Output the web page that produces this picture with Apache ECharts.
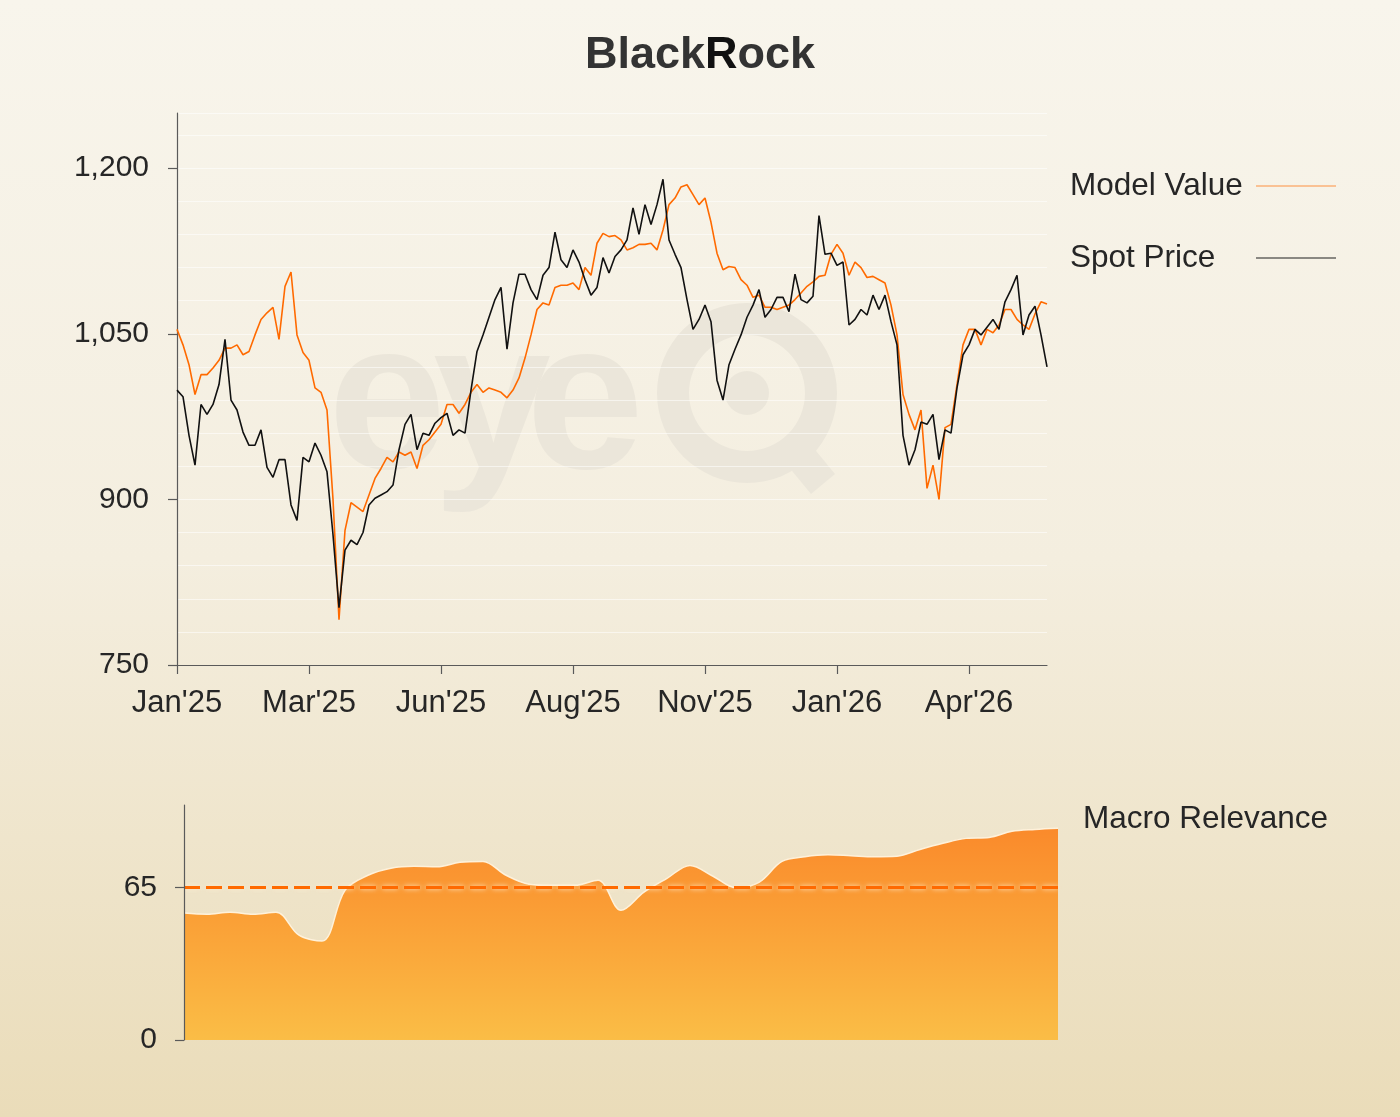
<!DOCTYPE html>
<html>
<head>
<meta charset="utf-8">
<script src="https://cdn.jsdelivr.net/npm/echarts@6/dist/echarts.min.js"></script>
<style>
  html, body { margin: 0; padding: 0; }
  body { background: linear-gradient(to bottom, #f8f5ec 0%, #f4eedf 50%, #eadcb9 100%); }
  #chart { width: 1400px; height: 1117px; }
</style>
</head>
<body>
<div id="chart"></div>
<script>
// x positions are trading-day buckets; a tick label every 22 buckets
const tickLabels = ["Jan'25", "Mar'25", "Jun'25", "Aug'25", "Nov'25", "Jan'26", "Apr'26"];
const tickStep = 22;

const modelValue = [
  1054, 1040, 1022, 995, 1013, 1013, 1019, 1026, 1037, 1037,
  1040, 1031, 1034, 1049, 1063, 1069, 1074, 1045, 1093, 1106,
  1049, 1033, 1026, 1001, 997, 981, 900, 791, 872, 897,
  893, 889, 904, 919, 928, 938, 934, 943, 940, 943,
  928, 949, 954, 961, 968, 986, 986, 978, 986, 997,
  1004, 997, 1001, 999, 997, 992, 999, 1010, 1028, 1049,
  1072, 1078, 1076, 1092, 1094, 1094, 1096, 1090, 1110, 1103,
  1132, 1141, 1138, 1139, 1135, 1126, 1128, 1131, 1131, 1132,
  1126, 1144, 1167, 1173, 1183, 1185, 1176, 1167, 1173, 1151,
  1123, 1108, 1111, 1110, 1099, 1094, 1083, 1085, 1074, 1074,
  1072, 1074, 1076, 1081, 1087, 1093, 1097, 1102, 1103, 1122,
  1131, 1123, 1103, 1115, 1110, 1101, 1102, 1099, 1096, 1076,
  1049, 995, 977, 963, 981, 910, 931, 900, 965, 968,
  1004, 1040, 1054, 1054, 1040, 1054, 1051, 1058, 1072, 1072,
  1063, 1058, 1054, 1068, 1079, 1077
];

const spotPrice = [
  999, 993, 958, 931, 986, 977, 986, 1004, 1045, 990,
  981, 961, 949, 949, 963, 929, 920, 936, 936, 895,
  881, 938, 934, 951, 940, 925, 868, 802, 854, 863,
  859, 870, 895, 901, 904, 907, 913, 945, 968, 977,
  945, 960, 958, 969, 974, 978, 958, 963, 960, 999,
  1034, 1049, 1065, 1081, 1092, 1036, 1078, 1104, 1104, 1090,
  1081, 1103, 1110, 1142, 1117, 1110, 1126, 1115, 1099, 1085,
  1092, 1119, 1105, 1120, 1126, 1135, 1164, 1140, 1167, 1149,
  1167, 1190, 1135, 1122, 1110, 1081, 1054, 1063, 1076, 1061,
  1008, 990, 1022, 1036, 1049, 1065, 1076, 1090, 1065, 1072,
  1083, 1083, 1070, 1104, 1081, 1078, 1084, 1157, 1122, 1123,
  1112, 1115, 1058, 1063, 1072, 1067, 1085, 1072, 1085, 1061,
  1040, 958, 931, 945, 970, 968, 977, 936, 963, 960,
  1001, 1031, 1040, 1054, 1049, 1056, 1063, 1054, 1079, 1090,
  1103, 1049, 1067, 1075, 1049, 1020
];

const macroRelevance = [
  54.0, 53.5, 54.4, 53.5, 54.4, 44.6, 42.1, 63.7, 70.1, 73.1,
  73.9, 73.7, 75.6, 76.0, 70.1, 66.3, 65.8, 65.8, 68.0, 55.2,
  62.9, 68.8, 74.3, 69.7, 64.8, 67.1, 76.0, 78.0, 78.8, 78.4,
  78.0, 78.2, 81.1, 83.7, 85.8, 86.2, 88.8, 89.6, 90.1
];
const macroThreshold = 65;

const priceTicks = [750, 900, 1050, 1200];
const macroTicks = [0, 65];
const xTicks = tickLabels.map((_, i) => i * tickStep);

const chart = echarts.init(document.getElementById('chart'), null, { renderer: 'canvas' });

const font = 'Liberation Sans, Arial, Helvetica, sans-serif';
const textColor = '#262626';
const axisColor = '#5a5a5a';
const wm = '#ebe6da';

const option = {
  backgroundColor: 'transparent',
  textStyle: { fontFamily: font },
  animation: false,
  title: [
    {
      text: 'Black{r|R}ock',
      left: 'center',
      top: 28,
      textStyle: {
        fontSize: 45, fontWeight: 'bold', color: '#333', fontFamily: font,
        rich: { r: { fontSize: 45, fontWeight: 'bold', color: '#111', fontFamily: font } }
      }
    },
    {
      text: 'Macro Relevance',
      left: 1078,
      top: 798,
      textStyle: { fontSize: 31.5, fontWeight: 'normal', color: textColor, fontFamily: font }
    }
  ],
  legend: {
    orient: 'vertical',
    left: 1065,
    top: 165,
    align: 'right',
    icon: 'rect',
    itemWidth: 80,
    itemHeight: 1.3,
    itemGap: 40,
    formatter: (name) => '{t|' + name + '}',
    textStyle: {
      color: textColor, fontFamily: font,
      rich: { t: { width: 181, align: 'left', fontSize: 31.5, lineHeight: 32, color: textColor, fontFamily: font } }
    },
    data: [
      { name: 'Model Value', itemStyle: { color: 'rgba(255,125,30,0.55)' } },
      { name: 'Spot Price', itemStyle: { color: 'rgba(40,40,40,0.7)' } }
    ]
  },
  graphic: [
    { type: 'text', z: -10, silent: true, style: { text: 'e', x: 387, y: 410, font: 'bold 212px ' + font, fill: wm, align: 'center', verticalAlign: 'middle' } },
    { type: 'text', z: -10, silent: true, style: { text: 'y', x: 492, y: 410, font: 'bold 212px ' + font, fill: wm, align: 'center', verticalAlign: 'middle' } },
    { type: 'text', z: -10, silent: true, style: { text: 'e', x: 585, y: 410, font: 'bold 212px ' + font, fill: wm, align: 'center', verticalAlign: 'middle' } },
    { type: 'ring', z: -10, silent: true, shape: { cx: 747, cy: 393, r: 90, r0: 58 }, style: { fill: wm } },
    { type: 'circle', z: -10, silent: true, shape: { cx: 747, cy: 393, r: 22 }, style: { fill: wm } },
    { type: 'polygon', z: -10, silent: true, shape: { points: [[788, 466], [812, 446], [835, 474], [811, 494]] }, style: { fill: wm } }
  ],
  grid: [
    { left: 177, top: 113, width: 870, height: 552 },
    { left: 184, top: 805, width: 874, height: 235 }
  ],
  xAxis: [
    {
      type: 'value',
      gridIndex: 0,
      min: 0,
      max: modelValue.length - 1,
      interval: tickStep,
      axisLine: { show: true, lineStyle: { color: axisColor, width: 1.2 } },
      axisTick: { show: true, length: 9, customValues: xTicks, lineStyle: { color: axisColor, width: 1.2 } },
      axisLabel: {
        customValues: xTicks,
        margin: 23,
        fontSize: 31,
        color: textColor,
        fontFamily: font,
        formatter: (v) => tickLabels[Math.round(v / tickStep)] || ''
      },
      splitLine: { show: false }
    },
    {
      type: 'value',
      gridIndex: 1,
      min: 0,
      max: macroRelevance.length - 1,
      show: false
    }
  ],
  yAxis: [
    {
      type: 'value',
      gridIndex: 0,
      min: 750,
      max: 1250,
      interval: 150,
      axisLine: { show: true, lineStyle: { color: axisColor, width: 1.2 } },
      axisTick: { show: true, length: 9, customValues: priceTicks, lineStyle: { color: axisColor, width: 1.2 } },
      axisLabel: {
        customValues: priceTicks,
        margin: 28,
        fontSize: 30,
        color: textColor,
        fontFamily: font,
        formatter: (v) => v.toLocaleString('en-US')
      },
      splitLine: { show: false }
    },
    {
      type: 'value',
      gridIndex: 1,
      min: 0,
      max: 100,
      interval: 5,
      z: 10,
      axisLine: { show: true, lineStyle: { color: axisColor, width: 1.2 } },
      axisTick: { show: true, length: 9, customValues: macroTicks, lineStyle: { color: axisColor, width: 1.2 } },
      axisLabel: {
        customValues: macroTicks,
        margin: 27,
        fontSize: 30,
        color: textColor,
        fontFamily: font
      },
      splitLine: { show: false }
    },
    {
      // faint guide lines every 30 in the price panel
      type: 'value',
      gridIndex: 0,
      min: 750,
      max: 1250,
      interval: 30,
      position: 'left',
      axisLine: { show: false },
      axisTick: { show: false },
      axisLabel: { show: false },
      splitLine: { show: true, lineStyle: { color: 'rgba(255,255,255,0.55)', width: 1 } }
    }
  ],
  series: [
    {
      name: 'Model Value',
      type: 'line',
      xAxisIndex: 0,
      yAxisIndex: 0,
      data: modelValue.map((v, i) => [i, v]),
      symbol: 'none',
      lineStyle: { color: '#ff6a00', width: 1.6 },
      itemStyle: { color: '#ff6a00' },
      z: 3
    },
    {
      name: 'Spot Price',
      type: 'line',
      xAxisIndex: 0,
      yAxisIndex: 0,
      data: spotPrice.map((v, i) => [i, v]),
      symbol: 'none',
      lineStyle: { color: '#111', width: 1.6 },
      itemStyle: { color: '#111' },
      z: 4
    },
    {
      name: 'Macro Relevance',
      type: 'line',
      xAxisIndex: 1,
      yAxisIndex: 1,
      data: macroRelevance.map((v, i) => [i, v]),
      symbol: 'none',
      smooth: 0.35,
      lineStyle: { color: 'rgba(255,243,222,0.95)', width: 1.5 },
      areaStyle: {
        opacity: 1,
        color: new echarts.graphic.LinearGradient(0, 0, 0, 1, [
          { offset: 0, color: '#fa8a2b' },
          { offset: 1, color: '#fabd46' }
        ])
      },
      markLine: {
        silent: true,
        symbol: ['none', 'none'],
        label: { show: false },
        lineStyle: {
          color: '#ff6a00', type: [16, 6], width: 3,
          shadowColor: 'rgba(255,236,210,0.95)', shadowBlur: 5
        },
        data: [{ yAxis: macroThreshold }]
      },
      z: 2
    }
  ]
};

chart.setOption(option);
</script>
</body>
</html>
